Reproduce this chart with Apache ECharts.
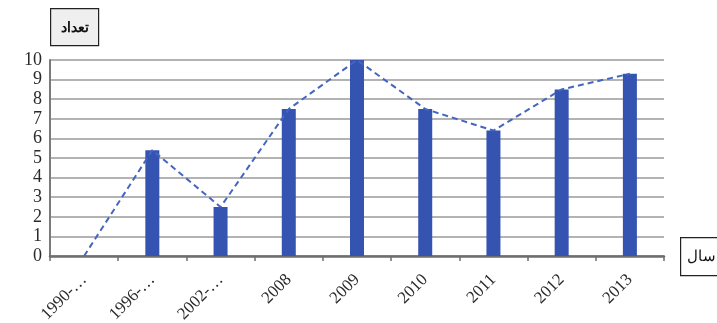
<!DOCTYPE html>
<html>
<head>
<meta charset="utf-8">
<script src="https://cdn.jsdelivr.net/npm/echarts@6/dist/echarts.min.js"></script>
<style>
  html, body { margin: 0; padding: 0; background: #fff; }
  #chart { width: 717px; height: 323px; }
</style>
</head>
<body>
<div id="chart"></div>
<script>
// Publications per year
const categories = ['1990-…', '1996-…', '2002-…', '2008', '2009', '2010', '2011', '2012', '2013'];
const counts = [0, 5.4, 2.5, 7.5, 10, 7.5, 6.4, 8.5, 9.3];
const yTicks = [0, 1, 2, 3, 4, 5, 6, 7, 8, 9, 10];

const chart = echarts.init(document.getElementById('chart'));
chart.setOption({
  animation: false,
  backgroundColor: '#fff',
  grid: { left: 50, right: 53, top: 60, bottom: 67, containLabel: false, outerBoundsMode: 'none' },
  xAxis: {
    type: 'category',
    data: categories,
    boundaryGap: true,
    axisLine: { lineStyle: { color: '#6e6e6e', width: 2.5 } },
    axisTick: { show: true, alignWithLabel: false, length: 5, lineStyle: { color: '#6e6e6e', width: 1.5 } },
    axisLabel: {
      rotate: 45, interval: 0, margin: 21,
      fontFamily: 'Liberation Serif', fontSize: 17, color: '#2a2a2a'
    }
  },
  yAxis: {
    type: 'value',
    min: yTicks[0], max: yTicks[yTicks.length - 1], interval: 1,
    axisLine: { show: true, lineStyle: { color: '#7a7a7a', width: 2 } },
    axisTick: { show: false },
    splitLine: { lineStyle: { color: '#9a9a9a', width: 1.5 } },
    axisLabel: {
      margin: 8, fontFamily: 'Liberation Serif', fontSize: 18, color: '#2a2a2a'
    }
  },
  series: [
    {
      type: 'bar',
      data: counts,
      barWidth: 14,
      itemStyle: { color: '#3553b0' },
      z: 2
    },
    {
      type: 'line',
      data: counts,
      symbol: 'none',
      lineStyle: { color: '#4466c2', width: 2, type: [6, 4] },
      z: 3
    }
  ],
  graphic: [
    {
      type: 'group', left: 50, top: 8,
      children: [
        { type: 'rect', shape: { x: 0, y: 0, width: 48, height: 37 },
          style: { fill: '#efefef', stroke: '#222', lineWidth: 1.2 } },
        { type: 'text', x: 24, y: 19,
          style: { text: 'تعداد', fontFamily: 'Noto Sans', fontSize: 14, fontWeight: 'bold', fill: '#111',
                   align: 'center', verticalAlign: 'middle' } }
      ]
    },
    {
      type: 'group', left: 680, top: 237,
      children: [
        { type: 'rect', shape: { x: 0, y: 0, width: 45, height: 38 },
          style: { fill: '#fff', stroke: '#222', lineWidth: 1.2 } },
        { type: 'text', x: 21, y: 19,
          style: { text: 'سال', fontFamily: 'Noto Sans', fontSize: 15, fill: '#111',
                   align: 'center', verticalAlign: 'middle' } }
      ]
    }
  ]
});
</script>
</body>
</html>
